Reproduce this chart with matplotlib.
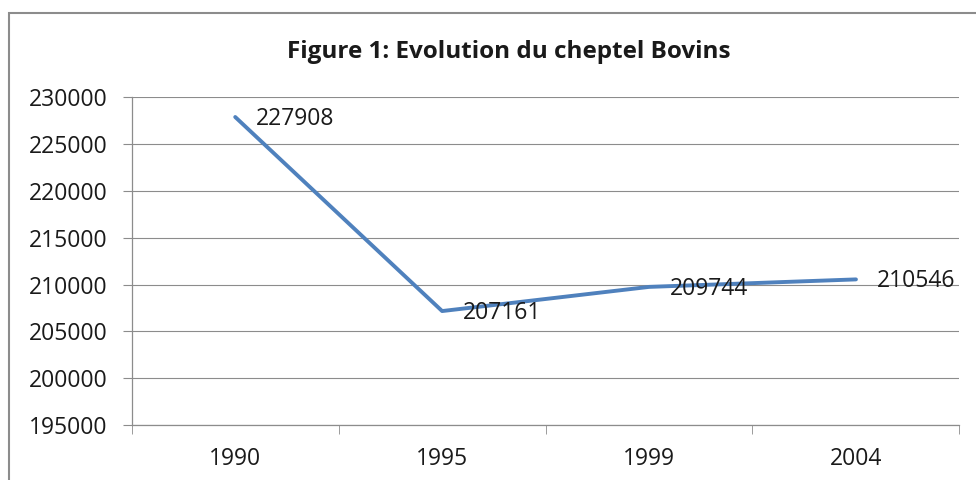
import numpy as np
import matplotlib
matplotlib.use('Agg')
import matplotlib.pyplot as plt
from matplotlib.patches import Rectangle

# donnees
annees = ['1990', '1995', '1999', '2004']
bovins = [227908, 207161, 209744, 210546]
y_ticks = [195000, 200000, 205000, 210000, 215000, 220000, 225000, 230000]

plt.rcParams['font.family'] = ['Open Sans', 'DejaVu Sans']

fig = plt.figure(figsize=(9.76, 4.8), dpi=100)
ax = fig.add_axes([0.135, 0.115, 0.848, 0.682])

# cadre du graphique (coupe a droite et en bas)
fig.patches.append(Rectangle((9/976, -0.2), 1.2, 1.2 - 13/480, transform=fig.transFigure,
                             fill=False, edgecolor='#8c8c8c', linewidth=1.5))

x = np.arange(len(annees))
ax.plot(x, bovins, color='#4F81BD', linewidth=2.8, solid_capstyle='round', zorder=3)

for xi, v in zip(x, bovins):
    ax.annotate(str(v), (xi, v), xytext=(15, -1.5), textcoords='offset points',
                ha='left', va='center', fontsize=16.5, color='#1a1a1a', zorder=4)

ax.set_xlim(-0.5, len(annees) - 0.5)
ax.set_ylim(195000, 230000)
ax.set_yticks(y_ticks)
ax.set_yticklabels([str(t) for t in y_ticks])
ax.set_xticks(x)
ax.set_xticklabels(annees)
ax.set_xticks(np.arange(-0.5, len(annees)), minor=True)
ax.tick_params(axis='x', which='major', length=0, pad=16, labelsize=16.5, labelcolor='#1a1a1a')
ax.tick_params(axis='x', which='minor', length=6.5, color='#8c8c8c', direction='out')
ax.tick_params(axis='y', length=6.5, color='#8c8c8c', labelsize=16.5, labelcolor='#1a1a1a', pad=11)

ax.grid(axis='y', color='#8c8c8c', linewidth=0.8)
ax.set_axisbelow(True)
for s in ['top', 'right']:
    ax.spines[s].set_visible(False)
for s in ['left', 'bottom']:
    ax.spines[s].set_color('#8c8c8c')
    ax.spines[s].set_linewidth(0.9)

fig.text(509/976, 1 - 52/480, 'Figure 1: Evolution du cheptel Bovins', ha='center', va='center',
         fontsize=17.5, fontweight='bold', color='#1a1a1a')

fig.savefig('out.png', dpi=100)
